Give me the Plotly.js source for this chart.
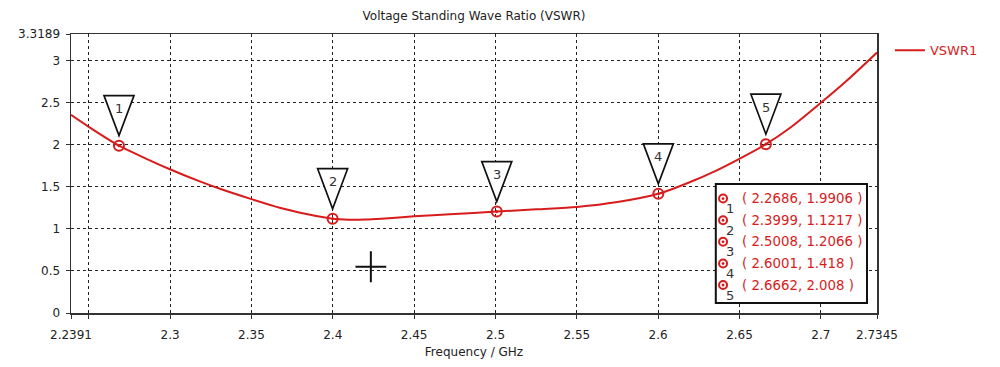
<!DOCTYPE html>
<html>
<head>
<meta charset="utf-8">
<script src="https://cdn.plot.ly/plotly-3.0.1.min.js"></script>
<style>
  html, body { margin: 0; padding: 0; background: #fff; }
  #chart { width: 1000px; height: 367px; }
</style>
</head>
<body>
<div id="chart"></div>
<script>
// ---- Data ----
const freq = [2.2391, 2.25, 2.2686, 2.2815, 2.2999, 2.3183, 2.3306, 2.35, 2.3674, 2.3838, 2.3999, 2.41, 2.42, 2.43, 2.45, 2.4719, 2.5008, 2.525, 2.55, 2.575, 2.6001, 2.6193, 2.6347, 2.649, 2.6662, 2.6807, 2.7, 2.7155, 2.7345];
const vswr = [2.357, 2.215, 1.9906, 1.87, 1.71, 1.565, 1.478, 1.355, 1.252, 1.178, 1.1217, 1.11, 1.112, 1.122, 1.15, 1.175, 1.2066, 1.234, 1.262, 1.32, 1.418, 1.555, 1.685, 1.825, 2.008, 2.197, 2.5, 2.756, 3.098];

const markerFreq = [2.2686, 2.3999, 2.5008, 2.6001, 2.6662];
const markerVswr = [1.9906, 1.1217, 1.2066, 1.418, 2.008];
const markerLabel = ['1', '2', '3', '4', '5'];

const cursorFreq = [2.4234];
const cursorVswr = [0.55];

const xTickVals = [2.2391, 2.25, 2.3, 2.35, 2.4, 2.45, 2.5, 2.55, 2.6, 2.65, 2.7, 2.7345];
const xTickText = ['2.2391', '', '2.3', '2.35', '2.4', '2.45', '2.5', '2.55', '2.6', '2.65', '2.7', '2.7345'];
const yTickVals = [0, 0.5, 1, 1.5, 2, 2.5, 3, 3.3189];
const yTickText = ['0', '0.5', '1', '1.5', '2', '2.5', '3', '3.3189'];

const seriesName = 'VSWR1';
const titleText = 'Voltage Standing Wave Ratio (VSWR)';
const xTitleText = 'Frequency / GHz';

// ---- Styling ----
const RED = '#d81c1c';
const FONT = 'DejaVu Sans, Verdana, sans-serif';
const xRange = [xTickVals[0], xTickVals[xTickVals.length - 1]];
const yRange = [yTickVals[0], yTickVals[yTickVals.length - 1]];

// table geometry (paper fractions of plot area)
const tbl = { x0: 0.800, x1: 0.9876, y0: 0.0358, y1: 0.4624 };
const rowTop = 0.4101, rowStep = 0.0775;
const symX = 0.809, textX = 0.830, subX = 0.8175;

const traces = [
  {
    x: freq, y: vswr, type: 'scatter', mode: 'lines', name: seriesName,
    line: { color: RED, width: 2, shape: 'spline', smoothing: 0.8 },
    showlegend: true
  },
  {
    x: markerFreq, y: markerVswr, type: 'scatter', mode: 'markers',
    marker: { symbol: 'circle-open-dot', size: 10, color: RED, line: { color: RED, width: 2 } },
    showlegend: false
  },
  {
    x: cursorFreq, y: cursorVswr, type: 'scatter', mode: 'markers',
    marker: { symbol: 'cross-thin', size: 22, color: '#111', line: { color: '#111', width: 2 } },
    showlegend: false
  }
];

const shapes = [];
const annotations = [];

// triangles above each marker
markerFreq.forEach((f, i) => {
  shapes.push({
    type: 'path', xref: 'x', yref: 'y',
    xsizemode: 'pixel', ysizemode: 'pixel',
    xanchor: f, yanchor: markerVswr[i],
    path: 'M-15,50 L15,50 L0,10 Z',
    line: { color: '#111', width: 1.7 }, fillcolor: '#ffffff', layer: 'above'
  });
  annotations.push({
    x: f, y: markerVswr[i], xref: 'x', yref: 'y', text: markerLabel[i],
    showarrow: false, yshift: 37, font: { family: FONT, size: 13, color: '#333' }
  });
});

// marker table box
shapes.push({
  type: 'rect', xref: 'paper', yref: 'paper',
  x0: tbl.x0, x1: tbl.x1, y0: tbl.y0, y1: tbl.y1,
  line: { color: '#111', width: 2 }, fillcolor: '#ffffff', layer: 'above'
});
markerFreq.forEach((f, i) => {
  const yy = rowTop - i * rowStep;
  shapes.push({
    type: 'circle', xref: 'paper', yref: 'paper',
    xsizemode: 'pixel', ysizemode: 'pixel', xanchor: symX, yanchor: yy,
    x0: -4, x1: 4, y0: -4, y1: 4,
    line: { color: RED, width: 2 }, fillcolor: 'rgba(0,0,0,0)', layer: 'above'
  });
  shapes.push({
    type: 'circle', xref: 'paper', yref: 'paper',
    xsizemode: 'pixel', ysizemode: 'pixel', xanchor: symX, yanchor: yy,
    x0: -1.2, x1: 1.2, y0: -1.2, y1: 1.2,
    line: { color: RED, width: 0.5 }, fillcolor: RED, layer: 'above'
  });
  annotations.push({
    x: textX, y: yy, xref: 'paper', yref: 'paper', xanchor: 'left', yanchor: 'middle',
    text: '( ' + String(f) + ', ' + String(markerVswr[i]) + ' )',
    showarrow: false, font: { family: FONT, size: 13.3, color: RED }
  });
  annotations.push({
    x: subX, y: yy, xref: 'paper', yref: 'paper', xanchor: 'center', yanchor: 'middle',
    text: markerLabel[i], yshift: -10,
    showarrow: false, font: { family: FONT, size: 13, color: '#333' }
  });
});

const axisCommon = {
  showline: true, linecolor: '#333', linewidth: 1.5, mirror: true,
  ticks: 'outside', ticklen: 4, tickcolor: '#333', tickwidth: 1,
  showgrid: true, gridcolor: '#222', gridwidth: 1, griddash: '3px,3px',
  zeroline: false, tickmode: 'array', fixedrange: true,
  tickfont: { family: FONT, size: 12, color: '#222' }
};

const layout = {
  width: 1000, height: 367,
  margin: { l: 71, r: 123, t: 34, b: 54 },
  paper_bgcolor: '#ffffff', plot_bgcolor: '#ffffff',
  font: { family: FONT, size: 12, color: '#222' },
  title: {
    text: titleText, x: 0.5, xref: 'paper', xanchor: 'center',
    y: 1 - 16 / 367, yref: 'container', yanchor: 'middle',
    font: { family: FONT, size: 12, color: '#222' }
  },
  xaxis: Object.assign({}, axisCommon, {
    range: xRange, tickvals: xTickVals, ticktext: xTickText, ticklabelstandoff: 6,
    title: { text: xTitleText, standoff: 6, font: { family: FONT, size: 12, color: '#222' } }
  }),
  yaxis: Object.assign({}, axisCommon, {
    range: yRange, tickvals: yTickVals, ticktext: yTickText, ticklabelstandoff: 3
  }),
  showlegend: true,
  legend: {
    x: 1.016, xanchor: 'left', y: 0.995, yanchor: 'top',
    bgcolor: 'rgba(0,0,0,0)', borderwidth: 0,
    font: { family: FONT, size: 13, color: RED }
  },
  shapes: shapes,
  annotations: annotations,
  hovermode: false
};

Plotly.newPlot('chart', traces, layout, { displayModeBar: false, staticPlot: true });
</script>
</body>
</html>
